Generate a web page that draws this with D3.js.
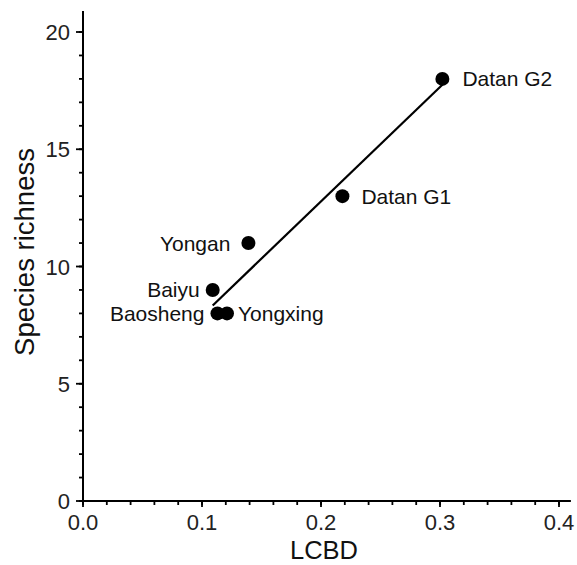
<!DOCTYPE html>
<html><head><meta charset="utf-8">
<script src="https://cdn.jsdelivr.net/npm/d3@7/dist/d3.min.js"></script>
<style>body{margin:0;background:#fff;}svg{display:block;font-family:"Liberation Sans",Arial,sans-serif;}</style>
</head><body><svg id="c" width="577" height="565"></svg>
<script>
const sites = ["Baiyu","Baosheng","Yongxing","Yongan","Datan G1","Datan G2"];
const lcbd = [0.109, 0.113, 0.121, 0.139, 0.218, 0.302];
const richness = [9, 8, 8, 11, 13, 18];
const labelSide = ["left","left","right","left","right","right"];
const xTicks = [0.0, 0.1, 0.2, 0.3, 0.4];
const yTicks = [0, 5, 10, 15, 20];
const xMinor = d3.range(0, 0.41, 0.02);
const yMinor = d3.range(0, 21, 1);

// label gap styling (pixels from point centre), keyed by site
const labelGap = {"Baiyu":13, "Baosheng":13, "Yongxing":11, "Yongan":18, "Datan G1":19, "Datan G2":20};

const svg = d3.select("#c");
const x = d3.scaleLinear().domain([0, 0.4]).range([83, 559]);
const y = d3.scaleLinear().domain([0, 20]).range([501, 32]);

const g = svg.append("g");
g.append("line").attr("x1", x(0)).attr("x2", x(0.41)).attr("y1", y(0)).attr("y2", y(0)).attr("stroke","#000").attr("stroke-width",2);
g.append("line").attr("x1", x(0)).attr("x2", x(0)).attr("y1", y(0)).attr("y2", y(20.9)).attr("stroke","#000").attr("stroke-width",2);

g.selectAll(".xm").data(xMinor).join("line")
 .attr("x1", d=>x(d)).attr("x2", d=>x(d)).attr("y1", y(0)).attr("y2", y(0)+4).attr("stroke","#000").attr("stroke-width",1.8);
g.selectAll(".xM").data(xTicks).join("line")
 .attr("x1", d=>x(d)).attr("x2", d=>x(d)).attr("y1", y(0)).attr("y2", y(0)+6).attr("stroke","#000").attr("stroke-width",1.8);
g.selectAll(".ym").data(yMinor).join("line")
 .attr("y1", d=>y(d)).attr("y2", d=>y(d)).attr("x1", x(0)).attr("x2", x(0)-4).attr("stroke","#000").attr("stroke-width",1.8);
g.selectAll(".yM").data(yTicks).join("line")
 .attr("y1", d=>y(d)).attr("y2", d=>y(d)).attr("x1", x(0)).attr("x2", x(0)-7).attr("stroke","#000").attr("stroke-width",1.8);

g.selectAll(".xl").data(xTicks).join("text")
 .attr("x", d=>x(d)).attr("y", y(0)+29).attr("text-anchor","middle")
 .attr("font-size",22).attr("fill","#222").text(d=>d3.format(".1f")(d));
g.selectAll(".yl").data(yTicks).join("text")
 .attr("x", x(0)-13).attr("y", d=>y(d)+8).attr("text-anchor","end")
 .attr("font-size",22).attr("fill","#222").text(d=>d);

svg.append("text").attr("x", 324).attr("y", 559).attr("text-anchor","middle")
 .attr("font-size",25.5).attr("fill","#111").text("LCBD");
svg.append("text").attr("transform","translate(34,252) rotate(-90)").attr("text-anchor","middle")
 .attr("font-size",27.5).attr("fill","#111").text("Species richness");

// regression line (least squares fit of the data)
const mx = d3.mean(lcbd), my = d3.mean(richness);
let sxy = 0, sxx = 0;
lcbd.forEach((v,i)=>{ sxy += (v-mx)*(richness[i]-my); sxx += (v-mx)*(v-mx); });
const slope = sxy/sxx, icpt = my - slope*mx;
const x0 = d3.min(lcbd), x1 = d3.max(lcbd);
svg.append("line").attr("x1", x(x0)).attr("y1", y(icpt+slope*x0))
 .attr("x2", x(x1)).attr("y2", y(icpt+slope*x1)).attr("stroke","#000").attr("stroke-width",2.2);

const data = sites.map((s,i)=>({s, x:lcbd[i], y:richness[i], side:labelSide[i]}));
svg.selectAll("circle").data(data).join("circle")
 .attr("cx", d=>x(d.x)).attr("cy", d=>y(d.y)).attr("r",7).attr("fill","#000");
svg.selectAll(".lab").data(data).join("text")
 .attr("x", d=>x(d.x) + (d.side==="left" ? -labelGap[d.s] : labelGap[d.s]))
 .attr("y", d=>y(d.y)+7.5)
 .attr("text-anchor", d=>d.side==="left" ? "end" : "start")
 .attr("font-size",21).attr("fill","#111").text(d=>d.s);
</script></body></html>
